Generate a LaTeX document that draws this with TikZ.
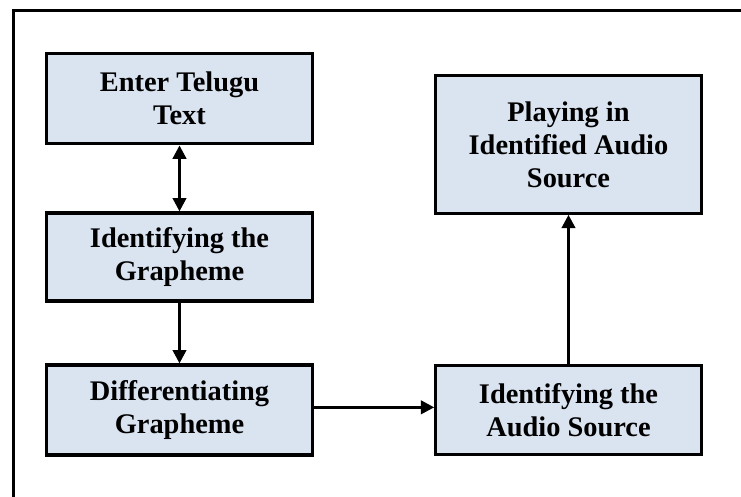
\documentclass[tikz,border=0pt]{standalone}
\usepackage{fontspec}
\setmainfont{Liberation Serif}
\usetikzlibrary{arrows.meta}
\definecolor{boxfill}{RGB}{218,227,240}
\begin{document}
\begin{tikzpicture}[x=0.75pt,y=-0.75pt,
  stepbox/.style={draw=black,line width=2.4pt,fill=boxfill,inner sep=0pt,
    align=center,font=\bfseries\fontsize{21.3}{24.75}\selectfont,
    minimum width=199pt},
  conn/.style={line width=2.2pt,-{Triangle[length=10pt,width=10pt]}},
  dconn/.style={line width=2.2pt,{Triangle[length=10pt,width=10pt]}-{Triangle[length=10pt,width=10pt]}}]
\useasboundingbox (0,0) rectangle (741,496);
% outer frame (open at right and bottom)
\draw[line width=2.4pt] (13.5,500) -- (13.5,10.5) -- (745,10.5);
% boxes
\node[stepbox,minimum height=68pt] (b1) at (179.5,98.5) {Enter Telugu\\Text};
\node[stepbox,minimum height=66pt] (b2) at (179.5,257) {Identifying the\\Grapheme};
\node[stepbox,minimum height=67.5pt] (b3) at (179.5,410) {Differentiating\\Grapheme};
\node[stepbox,minimum height=67pt] (b4) at (568.5,410) {Identifying the\\Audio Source};
\node[stepbox,minimum height=103pt] (b5) at (568.5,144.5) {Playing in\\Identified Audio\\Source};
% connectors
\draw[dconn] (b1.south) -- (b2.north);
\draw[conn] (b2.south) -- (b3.north);
\draw[conn] ([yshift=2pt]b3.east) -- ([yshift=2pt]b4.west);
\draw[conn] (b4.north) -- (b5.south);
\end{tikzpicture}
\end{document}
